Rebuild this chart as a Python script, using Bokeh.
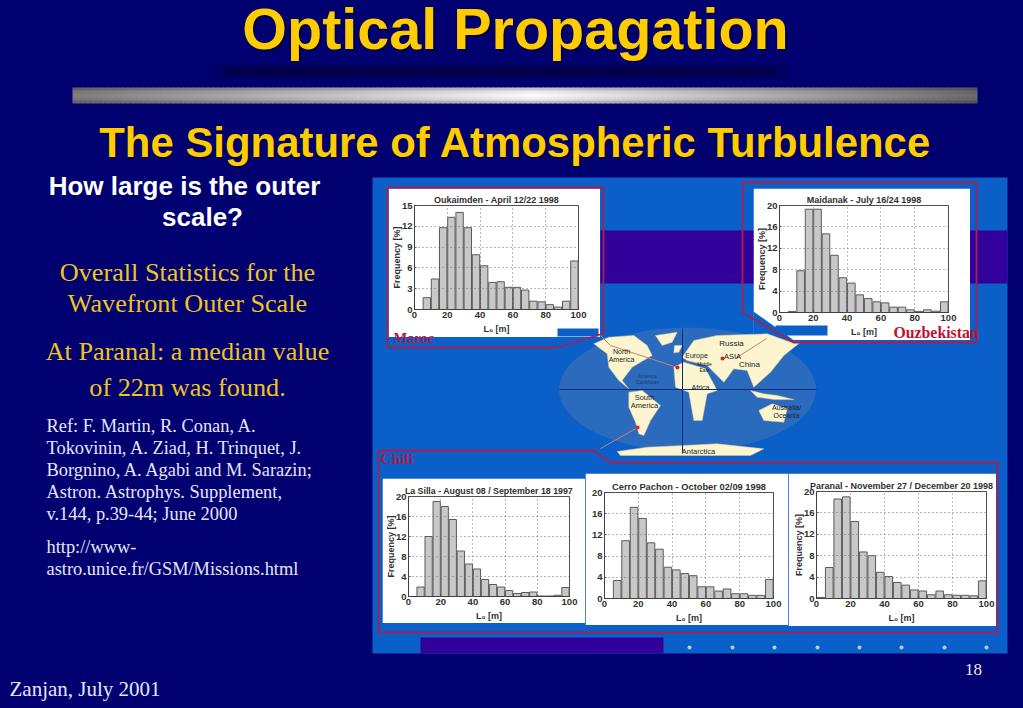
from bokeh.plotting import figure
from bokeh.layouts import column
from bokeh.models import Range1d, FixedTicker
from bokeh.embed import file_html
from bokeh.resources import INLINE
from bokeh.core.properties import value

# ---------- data ----------
bin_centers = [2.5, 7.5, 12.5, 17.5, 22.5, 27.5, 32.5, 37.5, 42.5, 47.5,
               52.5, 57.5, 62.5, 67.5, 72.5, 77.5, 82.5, 87.5, 92.5, 97.5]
oukaimden = [0, 1.7, 4.4, 11.8, 13.3, 14.0, 11.8, 7.9, 6.3, 3.9, 4.0, 3.2, 3.2, 2.8, 1.2, 1.1, 0.7, 0.35, 1.2, 7.0]
maidanak = [0, 0.2, 7.8, 19.3, 19.3, 14.7, 10.7, 6.5, 5.5, 3.3, 2.6, 2.0, 1.8, 1.0, 1.0, 0.5, 0.2, 0.5, 0.25, 2.0]
la_silla = [0, 1.9, 12.0, 19.0, 18.0, 15.4, 9.1, 6.5, 5.5, 3.4, 2.4, 1.9, 1.2, 0.6, 0.8, 0.9, 0.1, 0.1, 0.25, 1.8]
cerro_pachon = [0, 3.4, 10.9, 17.2, 15.1, 10.5, 9.3, 5.9, 5.4, 4.7, 4.3, 2.2, 2.2, 1.4, 1.8, 0.9, 0.9, 0.6, 0.6, 3.6]
paranal = [0.2, 5.8, 18.6, 19.0, 14.4, 8.7, 8.0, 4.9, 4.1, 3.0, 2.5, 1.6, 1.4, 0.7, 1.4, 0.7, 0.6, 0.6, 0.5, 3.3]
x_ticks = [0, 20, 40, 60, 80, 100]
y_ticks_15 = [0, 3, 6, 9, 12, 15]
y_ticks_20 = [0, 4, 8, 12, 16, 20]

NAVY = "#000070"
BLUE = "#0a5fc8"
PURPLE = "#32009a"
YELLOW = "#ffcc00"
SERIF_Y = "#f0c420"
PALE = "#e6e6fa"
RED = "#a8204e"
SANS = value("Liberation Sans")
SERIF = value("Liberation Serif")


def page_figure(**kw):
    f = figure(width=1025, height=710, x_range=Range1d(-1, 1024), y_range=Range1d(709, -1),
               x_axis_location=None, y_axis_location=None, frame_align=False,
               output_backend="svg", toolbar_location=None, min_border=0,
               min_border_left=0, min_border_right=0, min_border_top=0, min_border_bottom=0,
               styles={"position": "absolute", "left": "-1px", "top": "-1px"}, **kw)
    f.grid.visible = False
    f.outline_line_color = None
    return f


# ---------- slide background ----------
bg = page_figure(background_fill_color=NAVY, border_fill_color=NAVY)

# title shadow
for i, (y0, y1, a) in enumerate([(63, 79, 0.12), (65, 77, 0.2), (67, 75, 0.3), (69, 73, 0.35)]):
    bg.quad(left=[212 + i * 6], right=[788 - i * 6], top=[y0], bottom=[y1], fill_color="#000030",
            fill_alpha=a, line_color=None)

# metallic rule
lefts, rights, tops, bottoms, cols = [], [], [], [], []
rows = [(87, 90.5, 0.80), (90, 93.5, 0.95), (93, 97.5, 1.0), (97, 100.5, 0.95), (100, 103, 0.78)]
for xs in range(72, 977, 5):
    if xs < 530:
        g = 125 + (250 - 125) * (xs - 72) / (530 - 72)
    else:
        g = 250 - (250 - 105) * (xs - 530) / (977 - 530)
    for y0, y1, k in rows:
        v = int(round(g * k))
        lefts.append(xs); rights.append(min(xs + 6, 977)); tops.append(y0); bottoms.append(y1)
        cols.append("#%02x%02x%02x" % (v, v, v))
bg.quad(left=lefts, right=rights, top=tops, bottom=bottoms, fill_color=cols, line_color=None)


def txt(f, x, y, s, size, color, font=SANS, style="normal", align="left"):
    f.text(x=[x], y=[y - 0.34 * size], text=[s], text_font=font, text_font_size=f"{size}px", text_color=color,
           text_font_style=style, text_align=align, text_baseline="middle")


txt(bg, 517, 50, "Optical Propagation", 57.5, "#00004a", style="bold", align="center")
txt(bg, 515, 48, "Optical Propagation", 57.5, YELLOW, style="bold", align="center")
txt(bg, 517, 158, "The Signature of Atmospheric Turbulence", 41.9, "#00004a", style="bold", align="center")
txt(bg, 515, 156, "The Signature of Atmospheric Turbulence", 41.9, YELLOW, style="bold", align="center")

txt(bg, 184, 194, "How large is the outer", 26, "#ffffff", style="bold", align="center")
txt(bg, 202, 225, "scale?", 26, "#ffffff", style="bold", align="center")
txt(bg, 187, 281, "Overall Statistics for the", 26.2, SERIF_Y, font=SERIF, align="center")
txt(bg, 187, 312, "Wavefront Outer Scale", 26.2, SERIF_Y, font=SERIF, align="center")
txt(bg, 187, 360, "At Paranal: a median value", 26.2, SERIF_Y, font=SERIF, align="center")
txt(bg, 187, 396, "of 22m was found.", 26.2, SERIF_Y, font=SERIF, align="center")
ref_lines = ["Ref: F. Martin, R. Conan, A.", "Tokovinin, A. Ziad, H. Trinquet, J.",
             "Borgnino, A. Agabi and M. Sarazin;", "Astron. Astrophys. Supplement,",
             "v.144, p.39-44; June 2000"]
for i, line in enumerate(ref_lines):
    txt(bg, 46, 432 + i * 22, line, 18.4, PALE, font=SERIF)
txt(bg, 46, 553, "http://www-", 18.4, PALE, font=SERIF)
txt(bg, 46, 575, "astro.unice.fr/GSM/Missions.html", 18.4, PALE, font=SERIF)
txt(bg, 9, 696, "Zanjan, July 2001", 21, PALE, font=SERIF)
txt(bg, 973, 675, "18", 17, PALE, font=SERIF, align="center")

# picture backdrop
bg.quad(left=[372], right=[1007], top=[177], bottom=[653], fill_color=BLUE, line_color=None)
bg.quad(left=[600], right=[1007], top=[230], bottom=[283], fill_color=PURPLE, line_color=None)
bg.quad(left=[420], right=[663], top=[637], bottom=[653], fill_color=PURPLE, line_color=None)
bg.scatter(x=[689, 732, 774, 817, 859, 901, 944, 986], y=[647] * 8, size=4, fill_color="#a8d4ff", line_color=None)


# ---------- histogram panels ----------
def panel(title, vals, yticks, box, frame, ylabel=True, title_size=9):
    wl, wt, wr, wb = box
    fl, ft, fr, fb = frame
    f = figure(width=wr - wl, height=wb - wt, x_range=Range1d(0, 100), y_range=Range1d(0, yticks[-1]),
               output_backend="svg", toolbar_location=None, background_fill_color="#ffffff",
               border_fill_color="#ffffff", min_border_left=fl - wl, min_border_right=wr - fr,
               min_border_top=ft - wt, min_border_bottom=wb - fb, frame_align=False,
               styles={"position": "absolute", "left": f"{wl}px", "top": f"{wt}px"})
    f.vbar(x=bin_centers, top=vals, width=4.5, bottom=0, fill_color="#c8c8c8", line_color="#5a5a5a", line_width=1)
    f.title.text = title
    f.title.align = "center"
    f.title.text_font = "Liberation Sans"
    f.title.text_font_size = f"{title_size}px"
    f.title.text_font_style = "bold"
    f.title.text_color = "#303030"
    f.title.standoff = 2
    f.xaxis.ticker = FixedTicker(ticks=x_ticks)
    f.yaxis.ticker = FixedTicker(ticks=yticks)
    for ax in (f.xaxis[0], f.yaxis[0]):
        ax.major_tick_in = 2
        ax.major_tick_out = 0
        ax.minor_tick_line_color = None
        ax.axis_line_color = "#404040"
        ax.major_tick_line_color = "#404040"
        ax.major_label_text_font = "Liberation Sans"
        ax.major_label_text_font_size = "9.5px"
        ax.major_label_text_font_style = "bold"
        ax.major_label_text_color = "#303030"
        ax.axis_label_text_font = "Liberation Sans"
        ax.axis_label_text_font_size = "9px"
        ax.axis_label_text_font_style = "bold"
        ax.axis_label_text_color = "#303030"
    f.xaxis.major_label_standoff = 2
    f.yaxis.major_label_standoff = 2
    f.xaxis.axis_label = "L₀ [m]"
    f.xaxis.axis_label_standoff = 3
    f.yaxis.axis_label = "Frequency [%]" if ylabel else None
    f.yaxis.axis_label_standoff = -3
    f.grid.grid_line_color = "#707070"
    f.grid.grid_line_dash = "1 3"
    f.grid.grid_line_width = 1
    f.grid.level = "overlay"
    f.outline_line_color = "#505050"
    return f


panels = [
    panel("Oukaimden - April 12/22 1998", oukaimden, y_ticks_15, (388, 188, 600, 337), (413, 205, 578, 309)),
    panel("Maidanak - July 16/24 1998", maidanak, y_ticks_20, (753, 188, 970, 340), (779, 205, 948, 312)),
    panel("La Silla - August 08 / September 18 1997", la_silla, y_ticks_20, (382, 478, 585, 623), (407, 496, 569, 597), title_size=8.8),
    panel("Cerro Pachon - October 02/09 1998", cerro_pachon, y_ticks_20, (585, 473, 788, 625), (604, 492, 773, 598), ylabel=False, title_size=9.3),
    panel("Paranal - November 27 / December 20 1998", paranal, y_ticks_20, (788, 473, 996, 626), (816, 491, 986, 598), title_size=9),
]

# ---------- overlay: strips, map, connector frames, country labels ----------
top = page_figure(background_fill_color=None, border_fill_color=None)
top.quad(left=[557, 775], right=[598, 827], top=[328, 325], bottom=[336, 335], fill_color=BLUE, line_color=None)
top.patch([753, 753, 795], [311, 341, 341], fill_color=BLUE, line_color=None)
top.ellipse(x=[687], y=[389], width=[257], height=[124], fill_color="#2a6bbe", line_color=None)


def zx(v):
    return [550 + a / 3 for a in v]


def zy(v):
    return [325 + a / 3 for a in v]


land = [
    ([130, 175, 250, 290, 305, 270, 245, 215, 235, 205, 175, 170], [55, 35, 30, 60, 90, 110, 125, 165, 190, 165, 125, 85]),
    ([315, 380, 365, 335], [30, 20, 50, 60]),
    ([235, 275, 330, 300, 280, 265, 255, 235], [200, 195, 240, 285, 330, 325, 290, 245]),
    ([370, 400, 465, 500, 470, 455, 430, 415, 375], [125, 110, 130, 195, 205, 285, 285, 200, 185]),
    ([395, 430, 500, 650, 720, 750, 700, 660, 610, 590, 550, 520, 470, 410], [95, 45, 30, 25, 50, 50, 90, 140, 185, 135, 130, 170, 120, 105]),
    ([625, 665, 710, 700, 640], [255, 235, 250, 290, 285]),
    ([600, 640, 680, 730, 670, 620], [195, 205, 210, 222, 222, 215]),
    ([200, 290, 400, 500, 640, 600, 210], [378, 365, 360, 355, 370, 390, 390]),
    ([372, 395, 385, 370], [60, 60, 80, 82]),
]
for xs, ys in land:
    top.patch(zx(xs), zy(ys), fill_color="#fdf5cf", line_color="#e8c890", line_width=0.5)
top.line([559, 816], [389, 389], line_color="#0a2a80", line_width=1)
top.line([682, 682], [328, 452], line_color="#0a2a80", line_width=1)

for xs, ys in [
    ([600, 610, 677], [335, 345, 367]),
    ([735, 766], [358, 338]),
    ([637, 600], [427, 448]),
]:
    top.line(xs, ys, line_color="#c88070", line_width=1)
top.scatter(x=[677, 722, 637], y=[367, 358, 427], size=4, fill_color="#e02020", line_color=None)

for s, x, y, sz in [("North", 621, 353, 7), ("America", 621, 361, 7), ("Europe", 696, 357, 7), ("Russia", 731, 346, 8),
                    ("ASIA", 732, 359, 7.5), ("China", 749, 367, 8), ("Africa", 700, 389, 7), ("South", 644, 400, 7.5),
                    ("America", 644, 408, 7.5), ("Australia/", 786, 409, 7), ("Oceania", 786, 417, 7),
                    ("Antarctica", 698, 454, 7.5)]:
    txt(top, x, y, s, sz, "#222222", align="center")
txt(top, 704, 365, "Middle", 5, "#222222", align="center")
txt(top, 704, 371, "East", 5, "#222222", align="center")
txt(top, 647, 377, "America", 5, "#223a70", align="center")
txt(top, 647, 383, "Caribbean", 5, "#223a70", align="center")

for xs, ys in [
    ([387, 603, 603, 557, 387, 387], [187, 187, 333, 347, 347, 187]),
    ([742, 976, 976, 793, 742, 742], [182, 182, 342, 342, 312, 182]),
    ([378, 593, 610, 997, 997, 378, 378], [450, 450, 462, 462, 632, 632, 450]),
]:
    top.line(xs, ys, line_color=RED, line_width=1.8)

txt(top, 393, 342, "Maroc", 14.5, RED, font=SERIF, style="bold")
txt(top, 893, 337, "Ouzbekistan", 15.8, "#c0102c", font=SERIF, style="bold")
txt(top, 380, 463, "Chili", 15.5, RED, font=SERIF, style="bold")

root = column(bg, *panels, top, width=1025, height=710)

html = file_html(root, INLINE)
html = html.replace("<body>", f'<body style="margin:0;background:{NAVY};overflow:hidden">', 1)
open("out.html", "w").write(html)
